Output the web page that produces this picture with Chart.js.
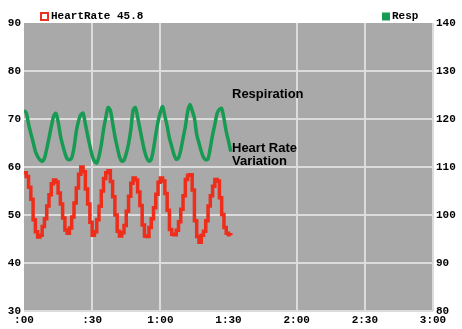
<!DOCTYPE html>
<html>
<head>
<meta charset="utf-8">
<script src="https://cdn.jsdelivr.net/npm/chart.js@4"></script>
<style>
  html, body { margin: 0; padding: 0; background: #fff; }
  #wrap { width: 462px; height: 329px; }
</style>
</head>
<body>
<div id="wrap"><canvas id="chart"></canvas></div>
<script>
// sample times (seconds)
const seconds = [
  0, 1, 2, 3, 4, 5, 6, 7, 8, 9, 10, 11, 12, 13, 14, 15, 16, 17, 18, 19,
  20, 21, 22, 23, 24, 25, 26, 27, 28, 29, 30, 31, 32, 33, 34, 35, 36, 37, 38, 39,
  40, 41, 42, 43, 44, 45, 46, 47, 48, 49, 50, 51, 52, 53, 54, 55, 56, 57, 58, 59,
  60, 61, 62, 63, 64, 65, 66, 67, 68, 69, 70, 71, 72, 73, 74, 75, 76, 77, 78, 79,
  80, 81, 82, 83, 84, 85, 86, 87, 88, 89, 90, 91
];

// heart rate, left axis
const heartRate = [
  58.8, 58.0, 55.8, 53.3, 49.0, 46.5, 45.4, 45.8, 47.6, 49.2,
  51.9, 54.2, 56.5, 57.3, 56.9, 54.6, 52.3, 49.4, 46.9, 46.2,
  47.3, 49.6, 52.5, 55.6, 58.5, 60.0, 59.0, 55.4, 52.3, 48.5,
  45.8, 46.5, 49.0, 51.8, 55.0, 57.6, 58.8, 59.2, 57.0, 53.8,
  50.0, 46.6, 45.6, 46.3, 47.8, 50.8, 53.9, 56.6, 57.7, 57.3,
  54.8, 52.0, 47.9, 45.6, 45.5, 47.4, 49.2, 51.5, 54.3, 56.8,
  57.7, 57.1, 54.5, 51.0, 47.0, 46.0, 45.9, 46.8, 48.6, 51.2,
  54.0, 57.4, 58.3, 58.4, 55.2, 48.8, 45.5, 44.3, 45.8, 46.6,
  48.8, 51.9, 54.0, 56.0, 57.4, 57.1, 53.6, 50.1, 47.4, 46.2,
  45.9, 45.8
];

// respiration, right axis
const resp = [
  121.8, 121.3, 119.0, 117.0, 115.2, 113.3, 112.2, 111.5, 111.2, 111.8,
  113.8, 116.0, 118.4, 120.5, 121.2, 119.5, 116.6, 114.6, 112.9, 111.7,
  111.5, 111.9, 114.0, 117.4, 119.6, 120.9, 121.2, 119.0, 116.6, 114.4,
  112.4, 111.2, 110.8, 112.2, 114.6, 117.8, 120.3, 122.4, 121.8, 119.2,
  116.4, 114.2, 112.2, 111.2, 111.4, 112.8, 114.8, 117.7, 121.8, 122.4,
  120.4, 118.0, 115.6, 113.4, 111.9, 111.2, 111.6, 113.8, 116.8, 119.5,
  121.4, 122.6, 120.6, 118.5, 116.0, 114.3, 112.6, 111.6, 111.9, 113.5,
  116.0, 118.4, 121.5, 123.0, 121.8, 120.2, 116.8, 115.0, 113.3, 112.0,
  111.5, 111.7, 114.0, 116.7, 118.9, 121.2, 122.0, 122.2, 120.1, 117.4,
  115.4, 113.2
];

const hrTicks = [30, 90];
const respTicks = [80, 140];
const timeTicks = [0, 180];
const notes = ['Respiration', 'Heart Rate', 'Variation'];

const monoFont = { family: '"Liberation Mono", "DejaVu Sans Mono", monospace', size: 11, weight: 'bold' };

function fmtTime(s) {
  const m = Math.floor(s / 60);
  const ss = String(s % 60).padStart(2, '0');
  return (m ? m : '') + ':' + ss;
}

const plotBg = {
  id: 'plotBg',
  beforeDraw(chart) {
    const { ctx, chartArea: a } = chart;
    ctx.save();
    ctx.fillStyle = '#a9a9a9';
    ctx.fillRect(a.left, a.top, a.right - a.left, a.bottom - a.top);
    ctx.restore();
  }
};

const extras = {
  id: 'extras',
  afterDraw(chart) {
    const { ctx } = chart;
    const last = heartRate[heartRate.length - 1];
    ctx.save();
    // legend items
    ctx.fillStyle = '#fff';
    ctx.fillRect(41, 13, 7, 7);
    ctx.strokeStyle = '#e8321e';
    ctx.lineWidth = 2;
    ctx.strokeRect(41, 13, 7, 7);
    ctx.fillStyle = '#179a52';
    ctx.fillRect(382, 12.5, 8, 8);
    ctx.fillStyle = '#000';
    ctx.font = 'bold 11px "Liberation Mono", "DejaVu Sans Mono", monospace';
    ctx.textBaseline = 'middle';
    ctx.fillText('HeartRate ' + last.toFixed(1), 51, 16.5);
    ctx.fillText('Resp', 392, 16.5);
    // labels on the plot
    ctx.font = 'bold 13px "Liberation Sans", Arial, sans-serif';
    ctx.fillText(notes[0], 232, 94);
    ctx.fillText(notes[1], 232, 148);
    ctx.fillText(notes[2], 232, 161);
    ctx.restore();
  }
};

const gridColor = c => (c.tick && (c.tick.value === timeTicks[0] || c.tick.value === hrTicks[1])) ? 'rgba(0,0,0,0)' : '#dcdcdc';

new Chart(document.getElementById('chart'), {
  type: 'line',
  data: {
    datasets: [
      {
        label: 'HeartRate',
        data: seconds.map((t, i) => ({ x: t, y: heartRate[i] })),
        borderColor: '#ee2d1a',
        borderWidth: 3.5,
        stepped: true,
        pointRadius: 0,
        yAxisID: 'y'
      },
      {
        label: 'Resp',
        data: seconds.map((t, i) => ({ x: t, y: resp[i] })),
        borderColor: '#179a52',
        borderWidth: 3.5,
        tension: 0.25,
        pointRadius: 0,
        yAxisID: 'y1'
      }
    ]
  },
  options: {
    responsive: true,
    maintainAspectRatio: false,
    animation: false,
    layout: { padding: { top: 23 } },
    plugins: { legend: { display: false }, tooltip: { enabled: false } },
    scales: {
      x: {
        type: 'linear',
        min: timeTicks[0],
        max: timeTicks[1],
        afterFit: s => { s.height = 18; },
        border: { display: false },
        grid: { color: gridColor, lineWidth: 2, drawTicks: false },
        ticks: {
          stepSize: 30, autoSkip: false, maxRotation: 0, padding: 3,
          color: '#000', font: monoFont, callback: v => fmtTime(v)
        }
      },
      y: {
        position: 'left',
        min: hrTicks[0],
        max: hrTicks[1],
        afterFit: s => { s.width = 24; },
        border: { display: false },
        grid: { color: gridColor, lineWidth: 2, drawTicks: false },
        ticks: { stepSize: 10, padding: 3, color: '#000', font: monoFont }
      },
      y1: {
        position: 'right',
        min: respTicks[0],
        max: respTicks[1],
        afterFit: s => { s.width = 29; },
        border: { display: false },
        grid: { drawOnChartArea: false, drawTicks: false },
        ticks: { stepSize: 10, padding: 3, color: '#000', font: monoFont }
      }
    }
  },
  plugins: [plotBg, extras]
});
</script>
</body>
</html>
